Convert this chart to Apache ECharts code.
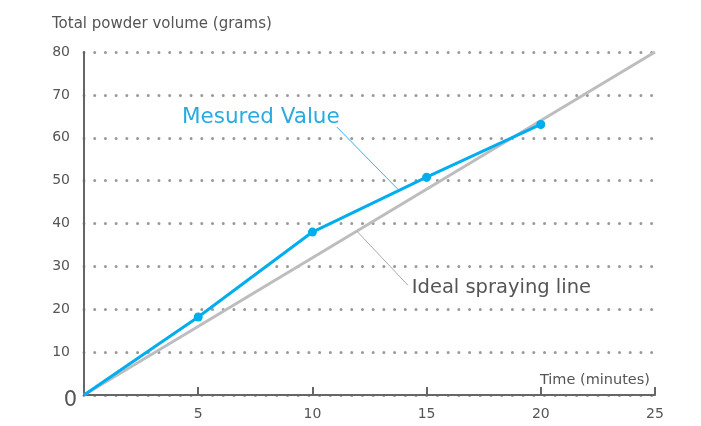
<!DOCTYPE html>
<html><head><meta charset="utf-8">
<script src="https://cdn.jsdelivr.net/npm/echarts@6/dist/echarts.min.js"></script>
<style>html,body{margin:0;padding:0;background:#fff}#c{width:701px;height:426px}</style>
</head><body><div id="c"></div>
<script>
const timeMinutes = [0, 5, 10, 15, 20];
const measuredGrams = [0, 18.2, 38, 50.8, 63.1];
const idealTime = [0, 25];
const idealGrams = [0, 80];
const xTicks = [5, 10, 15, 20, 25];
const yTicks = [0, 10, 20, 30, 40, 50, 60, 70, 80];
const labelMeasured = 'Mesured Value';
const labelIdeal = 'Ideal spraying line';

const FONT = '"DejaVu Sans", sans-serif';
const chart = echarts.init(document.getElementById('c'));
chart.setOption({
  animation: false,
  textStyle: { fontFamily: FONT },
  title: [
    { text: 'Total powder volume (grams)', left: 47, top: 12,
      textStyle: { fontFamily: FONT, fontSize: 15, fontWeight: 'normal', color: '#555' } },
    { text: 'Time (minutes)', right: 46, top: 368,
      textStyle: { fontFamily: FONT, fontSize: 14.5, fontWeight: 'normal', color: '#555' } }
  ],
  grid: { left: 84, right: 46, top: 52, bottom: 31, containLabel: false },
  xAxis: {
    type: 'value', min: 0, max: 25, interval: 5,
    axisLine: { lineStyle: { color: '#666', width: 2 } },
    axisTick: { inside: true, length: 8, lineStyle: { color: '#666', width: 2 } },
    axisLabel: { color: '#555', fontSize: 14, margin: 12,
      formatter: v => (xTicks.includes(v) ? String(v) : '') },
    splitLine: { show: false }
  },
  yAxis: {
    type: 'value', min: 0, max: 80, interval: 10,
    axisLine: { show: true, lineStyle: { color: '#666', width: 2 } },
    axisTick: { show: false },
    axisLabel: { color: '#555', fontSize: 14, margin: 14,
      formatter: v => (v === 0 ? '{z|0}' : (yTicks.includes(v) ? String(v) : '')),
      rich: { z: { fontSize: 21, color: '#555', padding: [12, -7, 0, 0] } } },
    splitLine: { show: true, lineStyle: { color: '#999', width: 3, type: [0.01, 10.7], cap: 'round' } }
  },
  series: [
    {
      type: 'line', name: 'Ideal', data: idealTime.map((t, i) => [t, idealGrams[i]]),
      symbol: 'none', lineStyle: { color: '#bdbdc0', width: 3 }, z: 2,
      markLine: { silent: true, symbol: ['none', 'none'], label: { show: false },
        lineStyle: { color: '#a9a9ab', width: 1, type: 'solid' },
        data: [[{ coord: [11.95, 38.2] }, { coord: [14.18, 25.6] }]] },
      markPoint: { symbol: 'circle', symbolSize: 0,
        data: [{ coord: [14.35, 24.9], value: labelIdeal }],
        label: { show: true, position: 'right', distance: 0, formatter: labelIdeal,
          color: '#555', fontSize: 19.5, fontFamily: FONT } }
    },
    {
      type: 'line', name: 'Measured',
      data: timeMinutes.map((t, i) => (i === 0 ? { value: [t, measuredGrams[i]], symbol: 'none' } : [t, measuredGrams[i]])),
      symbol: 'circle', symbolSize: 9, showSymbol: true,
      itemStyle: { color: '#00aeef' }, lineStyle: { color: '#00aeef', width: 3 }, z: 3,
      markLine: { silent: true, symbol: ['none', 'none'], label: { show: false },
        lineStyle: { color: '#2bb5ec', width: 1, type: 'solid' },
        data: [[{ coord: [11.07, 62.5] }, { coord: [13.74, 48.0] }]] },
      markPoint: { symbol: 'circle', symbolSize: 0,
        data: [{ coord: [4.29, 64.8], value: labelMeasured }],
        label: { show: true, position: 'right', distance: 0, formatter: labelMeasured,
          color: '#29abe2', fontSize: 21.5, fontFamily: FONT } }
    }
  ]
});
</script></body></html>
